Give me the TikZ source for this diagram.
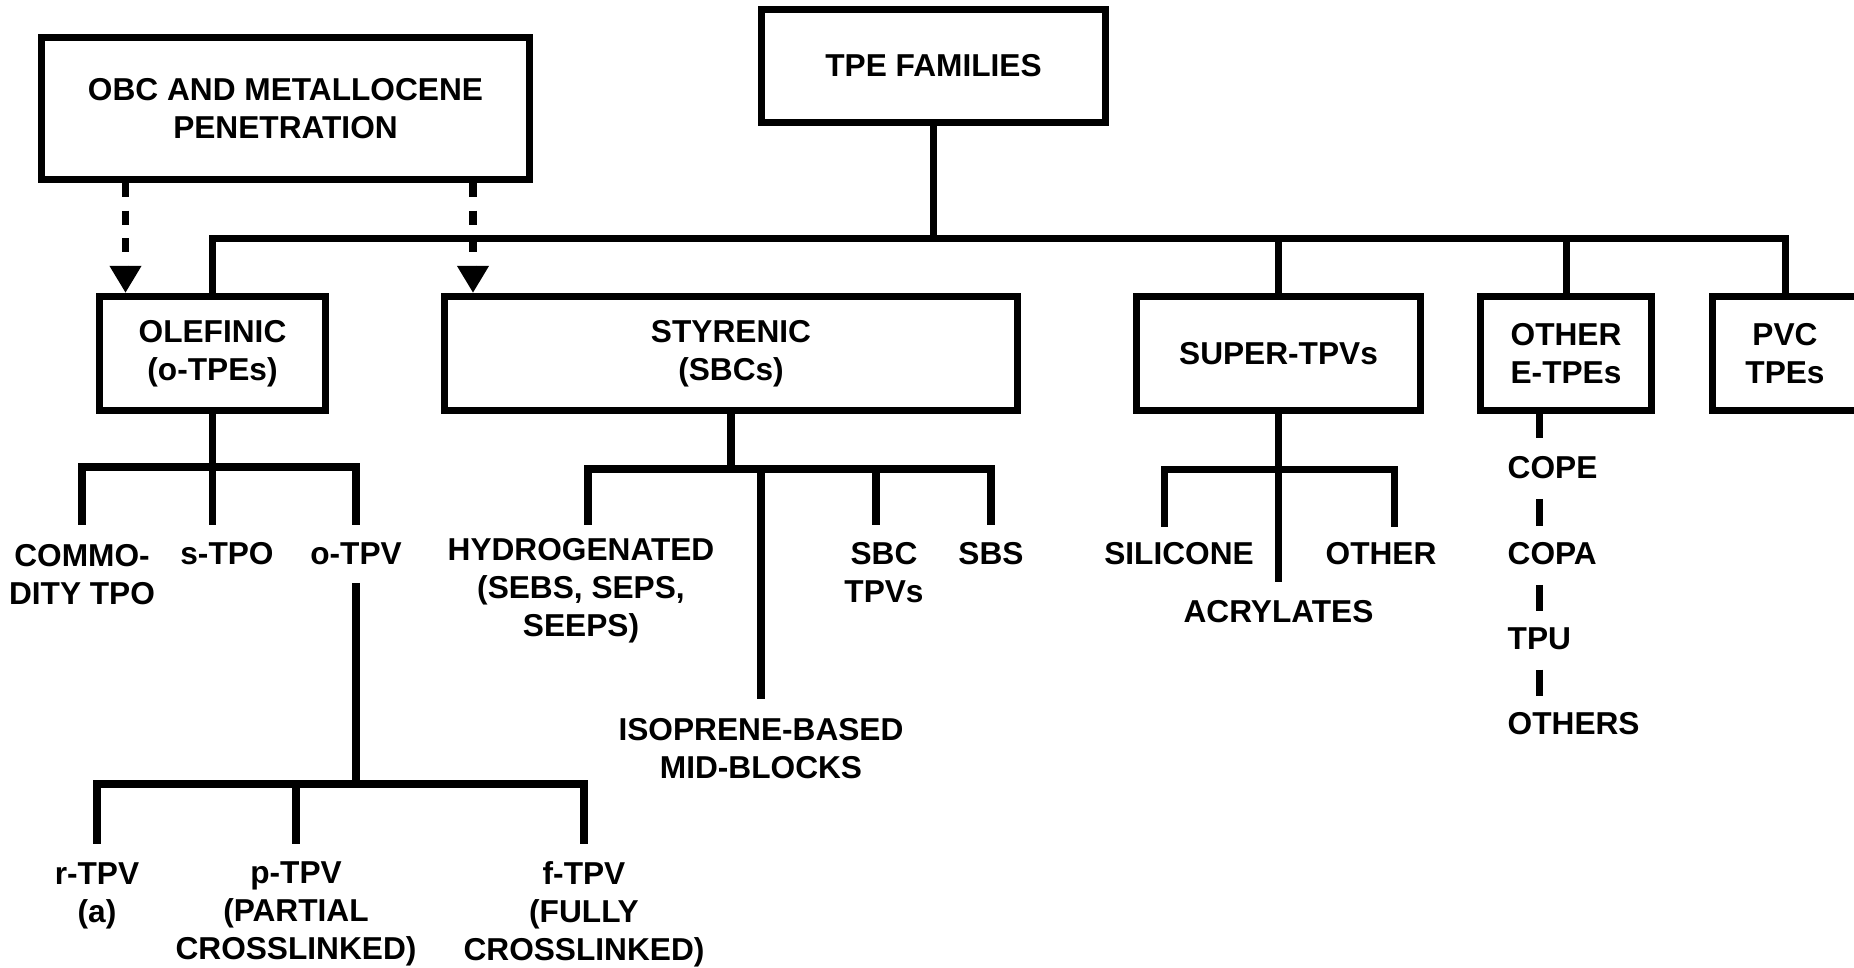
\documentclass[tikz,border=0pt]{standalone}
\usepackage{fontspec}
\setmainfont{Liberation Sans}
\usetikzlibrary{arrows.meta}

\tikzset{
  famBox/.style={rectangle, draw, line width=2pt, align=center, inner sep=0pt,
    font=\fontsize{9pt}{10.8pt}\selectfont\bfseries},
  lbl/.style={align=center, inner sep=0pt, font=\fontsize{9pt}{10.8pt}\selectfont\bfseries},
  link/.style={line width=2pt},
  dashlink/.style={line width=2pt, dash pattern=on 0.14cm off 0.135cm,
    -{Triangle[width=0.3cm,length=0.27cm]}},
}

\begin{document}
\begin{tikzpicture}[x=0.01cm, y=-0.01cm]
  \useasboundingbox (0,0) rectangle (1854,968);

  \node (tpe) [famBox, minimum width=3.44cm, minimum height=1.13cm] at (933.5,66) {TPE FAMILIES};
  \node (obc) [famBox, minimum width=4.88cm, minimum height=1.42cm] at (285.5,108.5) {OBC AND METALLOCENE\\PENETRATION};

  \node (olef) [famBox, minimum width=2.26cm, minimum height=1.14cm] at (212.5,353.5) {OLEFINIC\\(o-TPEs)};
  \node (styr) [famBox, minimum width=5.73cm, minimum height=1.14cm] at (731,353.5) {STYRENIC\\(SBCs)};
  \node (supt) [famBox, minimum width=2.84cm, minimum height=1.14cm] at (1278.5,353.5) {SUPER-TPVs};
  \node (etpe) [famBox, minimum width=1.71cm, minimum height=1.14cm] at (1566,353.5) {OTHER\\E-TPEs};
  \node (pvc) [famBox, minimum width=1.45cm, minimum height=1.14cm] at (1785,353.5) {PVC\\TPEs};

  \coordinate (busL) at (212.5,238.5);
  \draw[link] (tpe.south) -- (tpe.south |- busL);
  \draw[link] (olef.north) |- (pvc.north |- busL) -- (pvc.north);
  \draw[link] (supt.north) -- (supt.north |- busL);
  \draw[link] (etpe.north) -- (etpe.north |- busL);

  \coordinate (arrA) at (125.5,0);
  \coordinate (arrB) at (473,0);
  \draw[dashlink] (obc.south -| arrA) -- (olef.north -| arrA);
  \draw[dashlink] (obc.south -| arrB) -- (styr.north -| arrB);

  \node (commo) [lbl] at (82,575) {COMMO-\\DITY TPO};
  \node (stpo) [lbl] at (227,554) {s-TPO};
  \node (otpv) [lbl] at (356,554) {o-TPV};
  \coordinate (olefJ) at (212.5,467);
  \coordinate (commoT) at (82,525);
  \coordinate (stpoT) at (212.5,525);
  \coordinate (otpvT) at (356,525);
  \draw[link] (olef.south) -- (stpoT);
  \draw[link] (commoT) |- (otpvT |- olefJ) -- (otpvT);

  \node (rtpv) [lbl] at (97,896) {r-TPV\\(a)};
  \node (ptpv) [lbl] at (296,914) {p-TPV\\(PARTIAL\\CROSSLINKED)};
  \node (ftpv) [lbl] at (584,914) {f-TPV\\(FULLY\\CROSSLINKED)};
  \coordinate (otpvB) at (356,583);
  \coordinate (tpvJ) at (356,784);
  \coordinate (rtpvT) at (97,844);
  \coordinate (ptpvT) at (296,844);
  \coordinate (ftpvT) at (584,844);
  \draw[link] (otpvB) -- (tpvJ);
  \draw[link] (rtpvT) |- (ftpvT |- tpvJ) -- (ftpvT);
  \draw[link] (tpvJ -| ptpvT) -- (ptpvT);

  \node (hydro) [lbl] at (581,591) {HYDROGENATED\\(SEBS, SEPS,\\SEEPS)};
  \node (iso) [lbl] at (761,749) {ISOPRENE-BASED\\MID-BLOCKS};
  \node (sbctpv) [lbl] at (884,573) {SBC\\TPVs};
  \node (sbs) [lbl] at (991,554) {SBS};
  \coordinate (styJ) at (731,469);
  \coordinate (hydroT) at (588,525);
  \coordinate (isoT) at (761,699);
  \coordinate (sbcT) at (876,525);
  \coordinate (sbsT) at (991,525);
  \draw[link] (styr.south) -- (styJ);
  \draw[link] (hydroT) |- (sbsT |- styJ) -- (sbsT);
  \draw[link] (styJ -| isoT) -- (isoT);
  \draw[link] (styJ -| sbcT) -- (sbcT);

  \node (sil) [lbl] at (1179,554) {SILICONE};
  \node (oth) [lbl] at (1381,554) {OTHER};
  \node (acr) [lbl] at (1278.5,612) {ACRYLATES};
  \coordinate (supJ) at (1278.5,469.5);
  \coordinate (silT) at (1164.5,527);
  \coordinate (othT) at (1394.5,527);
  \draw[link, shorten >=0.18cm] (supt.south) -- (acr.north);
  \draw[link] (silT) |- (supJ) -| (othT);

  \node (cope) [lbl, anchor=west] at (1507,468) {COPE};
  \node (copa) [lbl, anchor=west] at (1507,554) {COPA};
  \node (tpu) [lbl, anchor=west] at (1507,639) {TPU};
  \node (others) [lbl, anchor=west] at (1507,724) {OTHERS};
  \coordinate (etx) at (1539,0);
  \draw[link, shorten >=0.18cm] (etpe.south -| etx) -- (cope.north -| etx);
  \draw[link, shorten <=0.19cm, shorten >=0.16cm] (cope.south -| etx) -- (copa.north -| etx);
  \draw[link, shorten <=0.19cm, shorten >=0.16cm] (copa.south -| etx) -- (tpu.north -| etx);
  \draw[link, shorten <=0.19cm, shorten >=0.16cm] (tpu.south -| etx) -- (others.north -| etx);
\end{tikzpicture}
\end{document}
